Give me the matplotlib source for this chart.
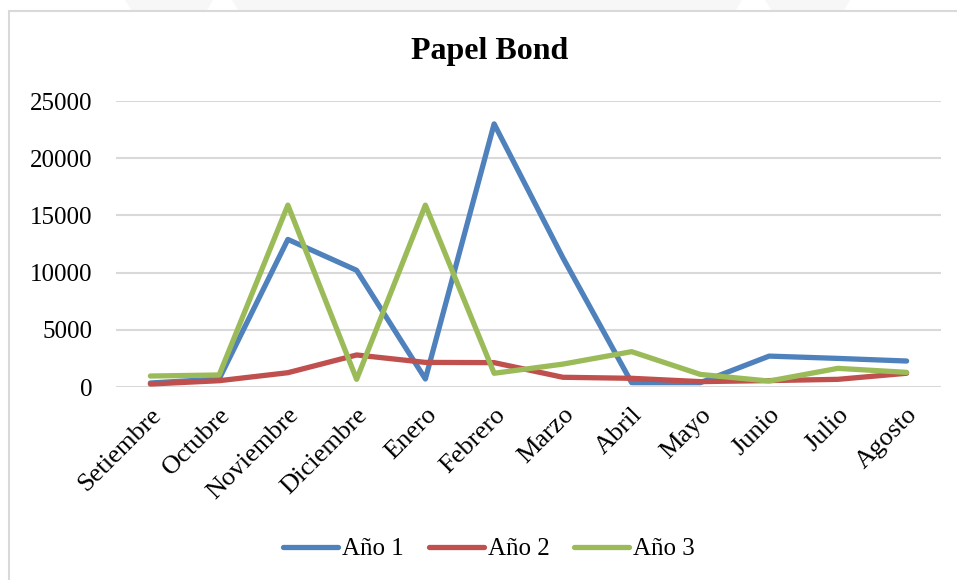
import matplotlib.pyplot as plt
import matplotlib.patches as mpatches

# Consumo mensual de papel bond por año
meses = ['Setiembre', 'Octubre', 'Noviembre', 'Diciembre', 'Enero', 'Febrero',
         'Marzo', 'Abril', 'Mayo', 'Junio', 'Julio', 'Agosto']
anio_1 = [350, 700, 12900, 10200, 700, 23000, 11300, 380, 380, 2700, 2500, 2270]
anio_2 = [260, 550, 1250, 2800, 2150, 2130, 850, 760, 470, 560, 670, 1200]
anio_3 = [960, 1050, 15900, 670, 15900, 1200, 2000, 3090, 1100, 520, 1630, 1280]
series = ['Año 1', 'Año 2', 'Año 3']
colores = ['#4F81BD', '#C0504D', '#9BBB59']
yticks = [0, 5000, 10000, 15000, 20000, 25000]

plt.rcParams['font.family'] = ['Liberation Serif', 'DejaVu Serif']

W, H = 957, 580
fig = plt.figure(figsize=(W / 100, H / 100), dpi=100)

# franja gris muy clara en la parte superior
for xs in [(125, 213), (232, 742), (765, 850)]:
    poly = mpatches.Polygon([(xs[0] / W, 1), (xs[1] / W, 1),
                             ((xs[1] - 6) / W, 1 - 10 / H), ((xs[0] + 6) / W, 1 - 10 / H)],
                            closed=True, transform=fig.transFigure,
                            facecolor='#f7f7f7', edgecolor='none')
    fig.patches.append(poly)

# marco del gráfico
marco = mpatches.Rectangle((9 / W, -0.1), 1.2, 1 - 11 / H + 0.1,
                           transform=fig.transFigure, fill=False,
                           edgecolor='#d9d9d9', linewidth=1.5)
fig.patches.append(marco)

ax = fig.add_axes([116 / W, 1 - 387 / H, 825 / W, 286 / H])
x = list(range(len(meses)))
for nombre, vals, c in zip(series, [anio_1, anio_2, anio_3], colores):
    ax.plot(x, vals, color=c, linewidth=3.8, solid_capstyle='round',
            solid_joinstyle='round', label=nombre, zorder=3)

ax.set_xlim(-0.5, len(meses) - 0.5)
ax.set_ylim(0, 25000)
ax.set_yticks(yticks)
ax.set_yticklabels([str(v) for v in yticks], fontsize=18)
ax.set_xticks(x)
ax.set_xticklabels(meses, fontsize=19, rotation=45, ha='right', va='top',
                   rotation_mode='anchor')
ax.tick_params(axis='y', length=0, pad=17)
ax.tick_params(axis='x', length=0, pad=12)
ax.grid(True, axis='y', color='#d9d9d9', linewidth=1.5)
ax.set_axisbelow(True)
for s in ax.spines.values():
    s.set_visible(False)

fig.text(490 / W, 1 - 52 / H, 'Papel Bond', ha='center', va='center',
         fontsize=23, fontweight='bold')

fig.legend(loc='center', bbox_to_anchor=(489 / W, 1 - 549 / H), ncol=3,
           frameon=False, fontsize=18, handlelength=2.2, handletextpad=0.15,
           columnspacing=1.0)

fig.savefig('out.png', dpi=100, facecolor='white')
